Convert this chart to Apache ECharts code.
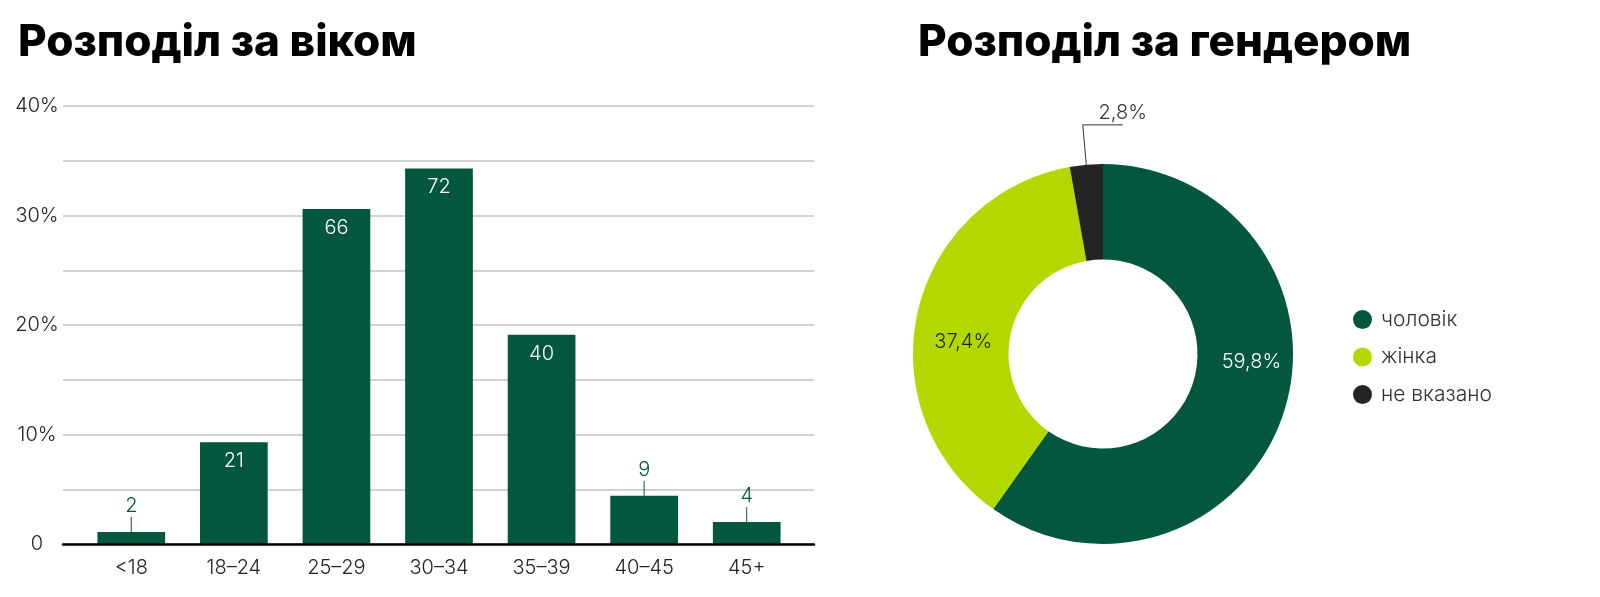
<!DOCTYPE html>
<html><head><meta charset="utf-8">
<script src="https://cdn.jsdelivr.net/npm/echarts@6/dist/echarts.min.js"></script>
<style>html,body{margin:0;padding:0;background:#fff}#c{width:1600px;height:597px}</style>
</head><body><div id="c"></div>
<script>
const titleAge = 'Розподіл за віком';
const titleGender = 'Розподіл за гендером';
const ageCategories = ['<18', '18–24', '25–29', '30–34', '35–39', '40–45', '45+'];
const ageShares = [1.1, 9.3, 30.6, 34.3, 19.1, 4.4, 2.0];
const ageCounts = [2, 21, 66, 72, 40, 9, 4];
const genderNames = ['чоловік', 'жінка', 'не вказано'];
const genderShares = [59.8, 37.4, 2.8];

const FONT = 'Inter, "Noto Sans", sans-serif';
const GREEN = '#03573f';
const LIME = '#b2d800';
const DARK = '#242424';

const chart = echarts.init(document.getElementById('c'), null, {renderer: 'canvas'});

const barData = ageShares.map((v, i) => ({
  value: v,
  count: ageCounts[i],
  label: v < 5 ? {position: 'top', distance: 16, color: GREEN} : {}
}));

chart.setOption({
  animation: false,
  title: [
    {text: titleAge, left: 13, top: 16, textStyle: {fontFamily: FONT, fontWeight: 800, fontSize: 44, color: '#000'}},
    {text: titleGender, left: 913, top: 16, textStyle: {fontFamily: FONT, fontWeight: 800, fontSize: 44, color: '#000'}}
  ],
  legend: {
    orient: 'vertical', left: 1348, top: 304,
    icon: 'circle', itemWidth: 19, itemHeight: 19, itemGap: 16.5,
    data: genderNames,
    textStyle: {fontFamily: FONT, fontSize: 21, fontWeight: 300, color: '#333', padding: [0, 0, 0, 4]},
    selectedMode: false
  },
  grid: [
    {left: 63, right: 786, top: 106, bottom: 53},
    {left: 80, right: 802, top: 106, bottom: 53}
  ],
  xAxis: [
    {gridIndex: 0, type: 'value', min: 0, max: 1, z: 10,
     axisLine: {show: true, lineStyle: {color: '#000', width: 2.5}},
     axisTick: {show: false}, axisLabel: {show: false}, splitLine: {show: false}},
    {gridIndex: 1, type: 'category', data: ageCategories,
     axisLine: {show: false}, axisTick: {show: false},
     axisLabel: {margin: 14, fontFamily: FONT, fontSize: 20, fontWeight: 300, color: '#222'}}
  ],
  yAxis: [
    {gridIndex: 0, type: 'value', min: 0, max: 40, interval: 5,
     axisLine: {show: false}, axisTick: {show: false},
     axisLabel: {margin: 26, align: 'center', fontFamily: FONT, fontSize: 20, fontWeight: 300, color: '#222',
       formatter: v => v === 0 ? '0' : (v % 10 === 0 ? v + '%' : '')},
     splitLine: {show: true, lineStyle: {color: '#d2d2d2', width: 2}}},
    {gridIndex: 1, type: 'value', min: 0, max: 40, show: false, splitLine: {show: false}}
  ],
  series: [
    {
      type: 'bar', xAxisIndex: 1, yAxisIndex: 1,
      data: barData,
      barCategoryGap: '34%',
      itemStyle: {color: GREEN},
      label: {show: true, position: 'insideTop', distance: 9, color: '#fff',
        fontFamily: FONT, fontSize: 20, fontWeight: 300,
        formatter: p => String(p.data.count)},
      emphasis: {disabled: true}
    },
    {
      type: 'custom', xAxisIndex: 1, yAxisIndex: 1, silent: true, z: 5,
      data: ageShares.map((v, i) => [i, v]),
      renderItem: (params, api) => {
        const v = api.value(1);
        if (v >= 5) return null;
        const p = api.coord([api.value(0), v]);
        return {type: 'line', shape: {x1: p[0], y1: p[1], x2: p[0], y2: p[1] - 15},
          style: {stroke: GREEN, lineWidth: 1}};
      }
    },
    {
      type: 'pie', center: [1103, 354], radius: [94.5, 190], startAngle: 90,
      avoidLabelOverlap: false,
      emphasis: {disabled: true},
      data: genderNames.map((n, i) => ({
        name: n, value: genderShares[i],
        itemStyle: {color: [GREEN, LIME, DARK][i]},
        label: i === 0 ? {position: 'inside', color: '#fff'}
             : i === 1 ? {position: 'inside', color: '#222'}
             : {position: 'outside', color: '#333'},
        labelLine: {show: i === 2, length: 40, length2: 40, lineStyle: {color: '#333', width: 1}}
      })),
      label: {show: true, fontFamily: FONT, fontSize: 20, fontWeight: 300,
        formatter: p => p.value.toFixed(1).replace('.', ',') + '%'},
      labelLayout: params => {
        if (params.dataIndex === 0) return {dx: 10, dy: -36};
        if (params.dataIndex === 1) return {dx: 2, dy: 20};
        const pts = params.labelLinePoints;
        if (!pts) return {};
        const p0 = pts[0], p1 = pts[1];
        const end = [p1[0] + 40, p1[1]];
        return {x: end[0], y: end[1] - 2, align: 'center', verticalAlign: 'bottom',
          labelLinePoints: [p0, p1, end]};
      }
    }
  ]
});
</script></body></html>
